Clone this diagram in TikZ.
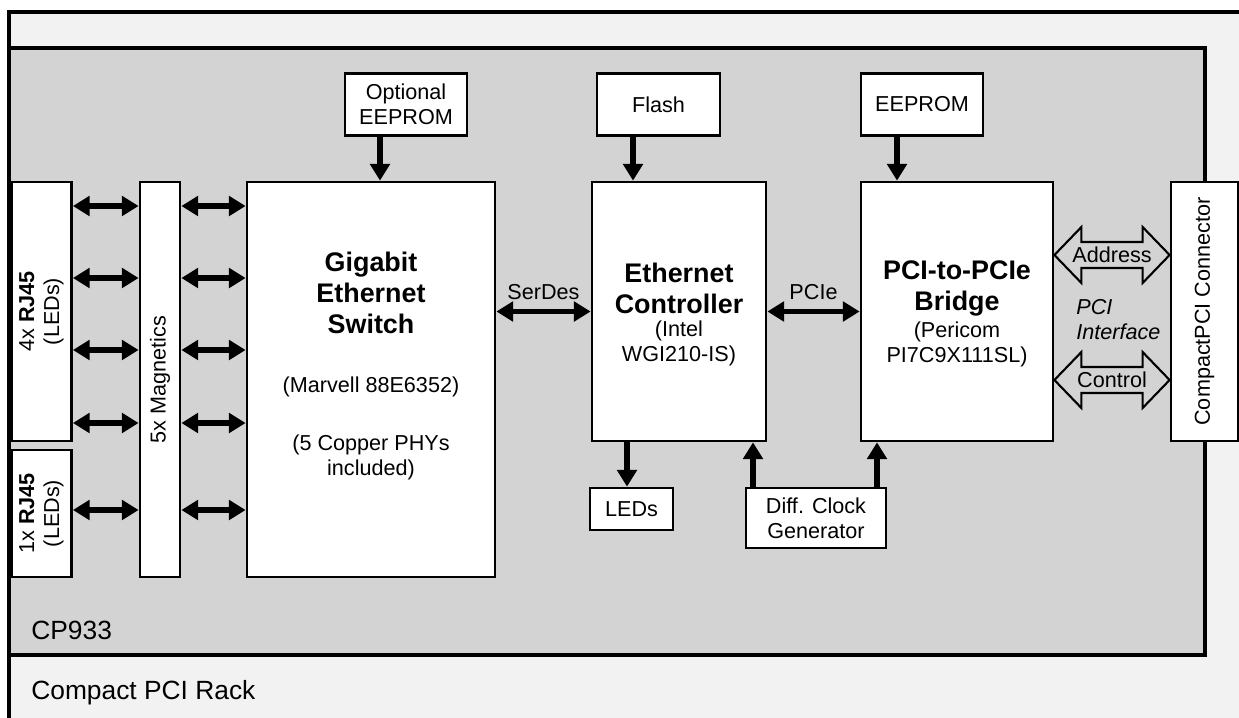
\documentclass[tikz,border=0pt]{standalone}
\usepackage{fontspec}
\setmainfont{Liberation Sans}
\usetikzlibrary{arrows.meta,calc,positioning}
\definecolor{boardgray}{HTML}{D3D3D3}
\definecolor{rackgray}{HTML}{F2F2F2}
\newcommand{\normtext}{\fontsize{12.3}{14.2}\selectfont}
\newcommand{\headtext}{\fontsize{15.3}{17.6}\selectfont\bfseries}
\newcommand{\outtext}{\fontsize{15}{18}\selectfont}

\begin{document}
\begin{tikzpicture}[x=0.02cm,y=-0.02cm]
    \tikzset{% styles for blocks, texts and links
    blk/.style={draw,fill=white,line width=1.6pt,inner sep=1pt,align=center,font=\normtext},
    head/.style={inner sep=0pt,align=center,font=\headtext},
    sub/.style={inner sep=0pt,align=center,font=\normtext},
    vtxt/.style={inner sep=0pt,align=center,font=\normtext,rotate=90},
    frame/.style={draw,line width=2.2pt},
    arr/.style={line width=3pt,-{Triangle[length=9.5pt,width=11pt]}},
    darr/.style={line width=3pt,{Triangle[length=9.5pt,width=11pt]}-{Triangle[length=9.5pt,width=11pt]}},
    bus/.style={draw,fill=boardgray,line width=1.2pt},
    }
    \useasboundingbox (0,0) rectangle (1239,717);
    \clip (0,0) rectangle (1239,717);
    \fill[white] (0,0) rectangle (1239,717);

    % Rack and board
    \draw[frame,fill=rackgray] (9,12) rectangle (1270,760);
    \draw[frame,fill=boardgray] (9,48) rectangle (1205,655);
    \node[anchor=west,font=\outtext,inner sep=0pt] (board) at (31,630) {CP933};
    \node[anchor=west,font=\outtext,inner sep=0pt] (rack) at (31,693) {Compact PCI Rack};

    % Nodes
    \node[blk,minimum width=1.2cm,minimum height=5.18cm] (rj4) at (41.5,311.5) {};
    \node[vtxt] (rj4t) at (rj4) {4x \textbf{RJ45}\\(LEDs)};
    \node[blk,minimum width=1.2cm,minimum height=2.54cm] (rj1) at (41.5,513.5) {};
    \node[vtxt] (rj1t) at (rj1) {1x \textbf{RJ45}\\(LEDs)};
    \node[blk,minimum width=0.8cm,minimum height=7.9cm] (mag) at (160,379.5) {};
    \node[vtxt] (magt) at (mag) {5x Magnetics};

    \node[blk,minimum width=4.96cm,minimum height=7.9cm] (sw) at (371,379.5) {};
    \node[head] (swt) at (371,293) {Gigabit\\Ethernet\\Switch};
    \node[sub] (swn1) at (371,387) {(Marvell 88E6352)};
    \node[sub] (swn2) at (371,457) {(5 Copper PHYs\\included)};
    \node[blk,minimum width=2.44cm,minimum height=1.24cm] (opt) at (406,104.5) {Optional\\EEPROM};

    \node[blk,minimum width=3.48cm,minimum height=5.18cm] (ctl) at (679,311.5) {};
    \node[head] (ctlt) at (679,288) {Ethernet\\Controller};
    \node[sub] (ctln) at (679,343) {(Intel\\WGI210-IS)};
    \node[blk,minimum width=2.46cm,minimum height=1.24cm] (flash) at (658.5,104.5) {Flash};
    \node[blk,minimum width=1.66cm,minimum height=0.84cm] (leds) at (631.5,509) {LEDs};
    \node[blk,minimum width=2.8cm,minimum height=1.2cm] (clk) at (816,518) {Diff. Clock\\Generator};

    \node[blk,minimum width=3.84cm,minimum height=5.18cm] (br) at (957,311.5) {};
    \node[head] (brt) at (957,288) {PCI-to-PCIe\\Bridge};
    \node[sub] (brn) at (957,344) {(Pericom\\PI7C9X111SL)};
    \node[blk,minimum width=2.44cm,minimum height=1.24cm] (eep) at (922,104.5) {EEPROM};

    \node[blk,minimum width=1.34cm,minimum height=5.18cm] (conn) at (1204.5,311.5) {};
    \node[vtxt] (connt) at (conn) {CompactPCI Connector};
    \node[sub,anchor=west,align=left,font=\normtext\itshape] (pcif) at (1076,320) {PCI\\Interface};

    % Edges
    \foreach \yy in {206,278,350,423} {
        \draw[darr] (rj4.east |- 0,\yy) -- (mag.west |- 0,\yy);
        \draw[darr] (mag.east |- 0,\yy) -- (sw.west |- 0,\yy);
    }
    \draw[darr] (rj1.east |- 0,510) -- (mag.west |- 0,510);
    \draw[darr] (mag.east |- 0,510) -- (sw.west |- 0,510);

    \draw[arr] (opt.south -| 380,0) -- (sw.north -| 380,0);
    \draw[arr] (flash.south -| 633,0) -- (ctl.north -| 633,0);
    \draw[arr] (eep.south -| 897,0) -- (br.north -| 897,0);
    \draw[arr] (ctl.south -| 627,0) -- (leds.north -| 627,0);
    \draw[arr] (clk.north -| 753,0) -- (ctl.south -| 753,0);
    \draw[arr] (clk.north -| 877,0) -- (br.south -| 877,0);

    \draw[darr] (sw.east |- ctl.west) -- node[sub,above=5pt] (serdes) {SerDes} (ctl.west);
    \draw[darr] (ctl.east) -- node[sub,above=5pt] (pcie) {PCIe} (br.west);

    % PCI bus arrows
    \foreach \yy/\txt in {255/Address,380/Control} {
        \coordinate (L) at (br.east |- 0,\yy);
        \coordinate (R) at (conn.west |- 0,\yy);
        \draw[bus] (L) -- ($(L)+(27,-28)$) -- ($(L)+(27,-13)$) -- ($(R)+(-27,-13)$)
            -- ($(R)+(-27,-28)$) -- (R) -- ($(R)+(-27,28)$) -- ($(R)+(-27,13)$)
            -- ($(L)+(27,13)$) -- ($(L)+(27,28)$) -- cycle;
        \node[sub] (bus\txt) at ($(L)!0.5!(R)$) {\txt};
    }
\end{tikzpicture}
\end{document}
